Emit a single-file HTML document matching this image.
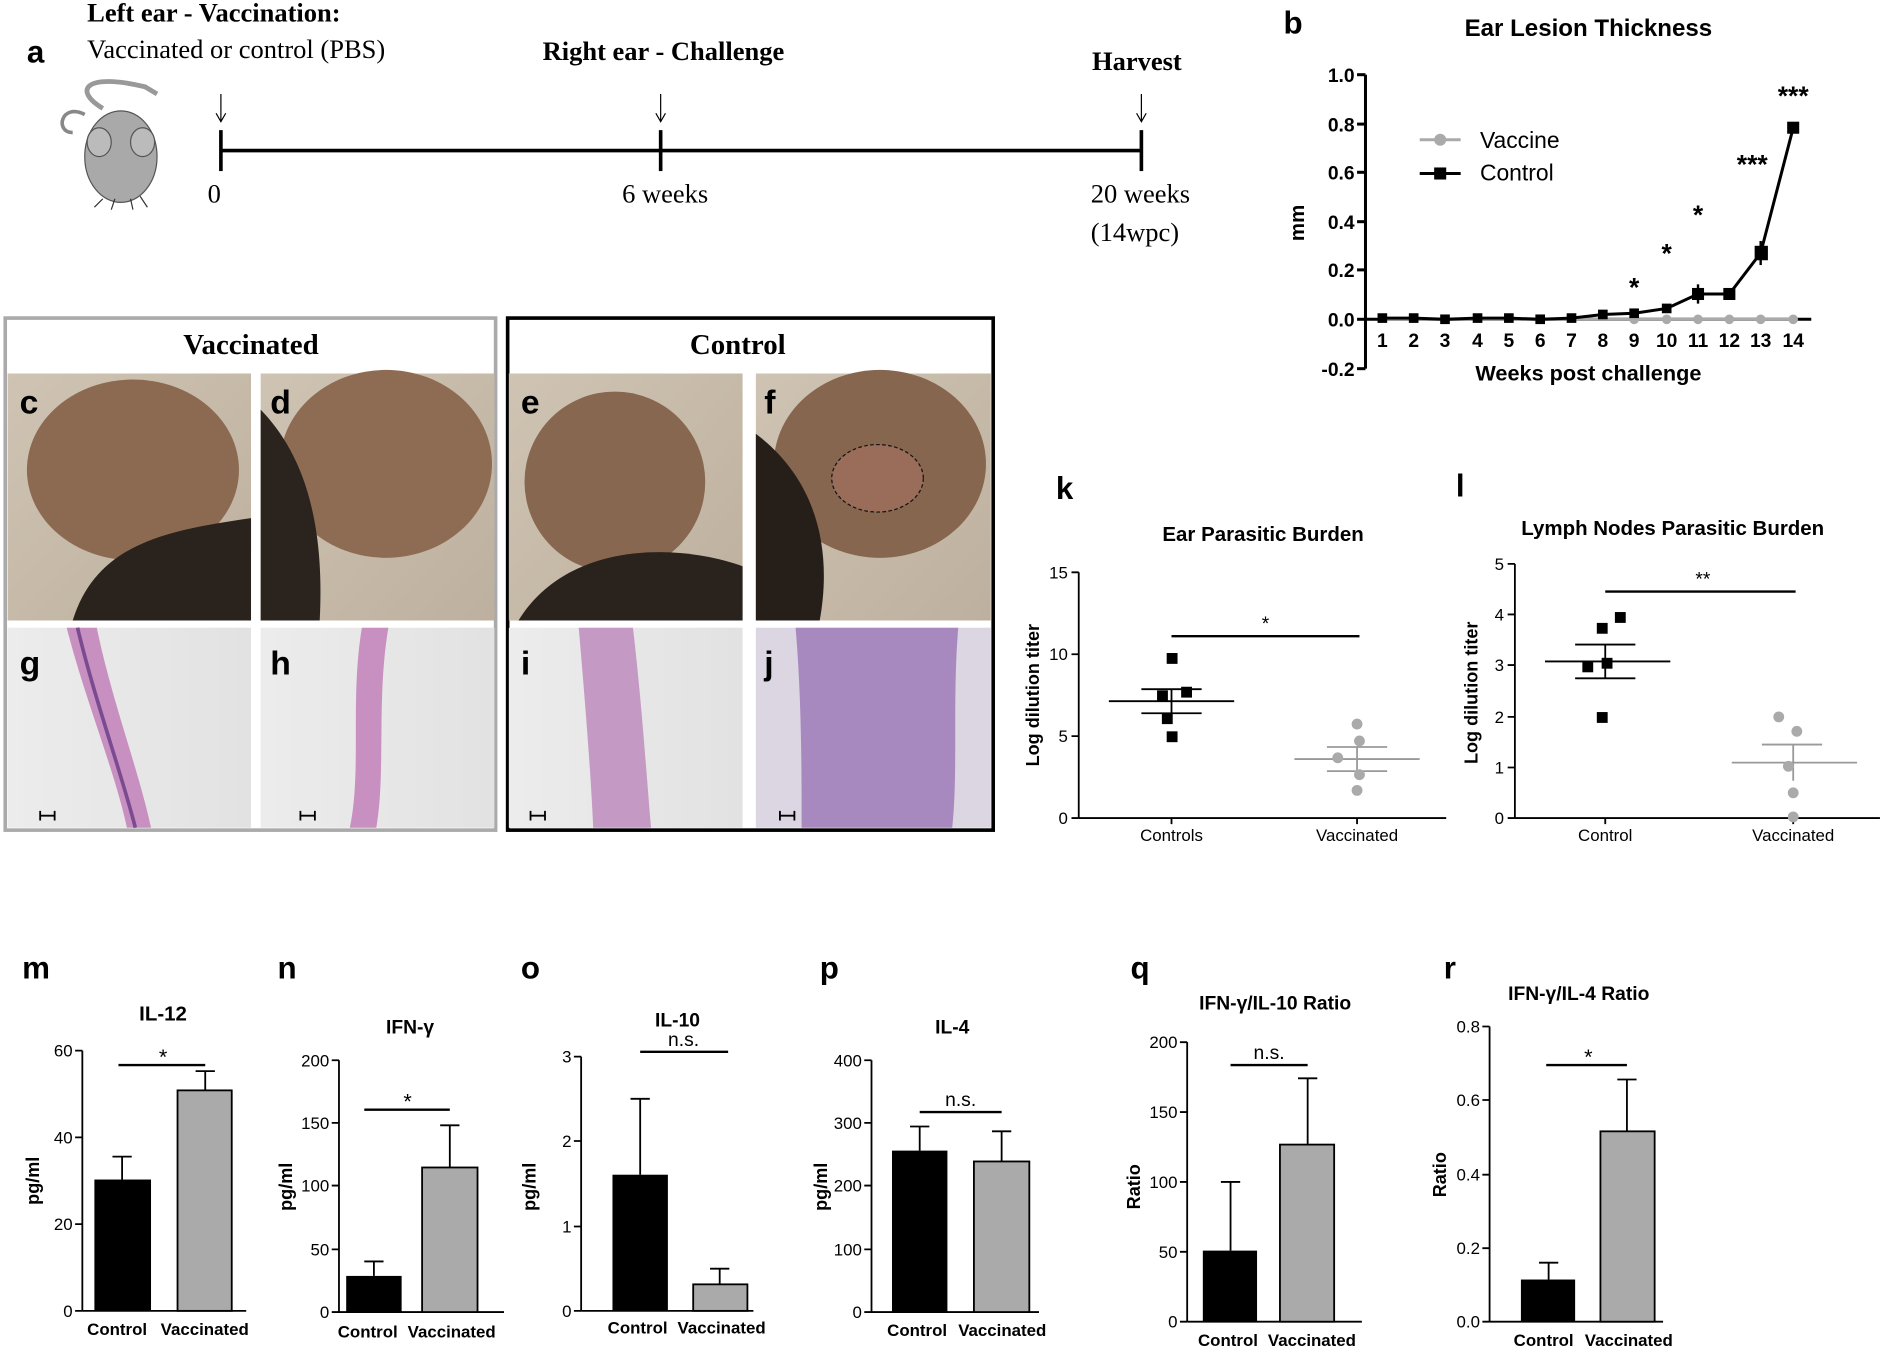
<!DOCTYPE html>
<html><head><meta charset="utf-8"><style>
html,body{margin:0;padding:0;background:#fff;width:1890px;height:1347px;overflow:hidden}
svg{display:block}
.s{font-family:"Liberation Sans",sans-serif}
.r{font-family:"Liberation Serif",serif}
</style></head><body>
<svg width="1890" height="1347" viewBox="0 0 1568 1118" xmlns="http://www.w3.org/2000/svg">
<rect width="1568" height="1118" fill="#fff"/>
<g class="r" fill="#000">
<text x="22" y="52" font-size="26" font-weight="bold" class="s">a</text>
<text x="72" y="18" font-size="22" font-weight="bold">Left ear - Vaccination:</text>
<text x="72" y="48" font-size="22">Vaccinated  or control (PBS)</text>
<text x="450" y="50" font-size="22" font-weight="bold">Right ear - Challenge</text>
<text x="906" y="58" font-size="22" font-weight="bold">Harvest</text>
<text x="172" y="168" font-size="22">0</text>
<text x="516" y="168" font-size="22">6 weeks</text>
<text x="905" y="168" font-size="22">20 weeks</text>
<text x="905" y="200" font-size="22">(14wpc)</text>
</g>
<g stroke="#000" fill="none">
<line x1="183" y1="125" x2="947" y2="125" stroke-width="3"/>
<line x1="183" y1="108" x2="183" y2="142" stroke-width="3"/>
<line x1="548" y1="108" x2="548" y2="142" stroke-width="3"/>
<line x1="947" y1="108" x2="947" y2="142" stroke-width="3"/>
<line x1="183" y1="78" x2="183" y2="100"/><path d="M179 94 L183 101 L187 94"/>
<line x1="548" y1="78" x2="548" y2="100"/><path d="M544 94 L548 101 L552 94"/>
<line x1="947" y1="78" x2="947" y2="100"/><path d="M943 94 L947 101 L951 94"/>
</g>
<g>
<path d="M70 95 C50 85 45 110 60 110" stroke="#888" stroke-width="3" fill="none"/>
<path d="M85 90 C60 75 70 60 120 72 L130 78" stroke="#999" stroke-width="4" fill="none"/>
<ellipse cx="100" cy="130" rx="30" ry="38" fill="#a9a9a9" stroke="#555"/>
<ellipse cx="82" cy="118" rx="10" ry="12" fill="#bbb" stroke="#555"/>
<ellipse cx="118" cy="118" rx="10" ry="12" fill="#bbb" stroke="#555"/>
<path d="M85 165 L78 172 M95 165 L92 174 M108 165 L110 174 M116 163 L122 172" stroke="#333"/>
</g>
<g class="s">
<text x="1065" y="28" font-size="26" font-weight="bold">b</text>
<text x="1318" y="30" font-size="20" font-weight="bold" text-anchor="middle">Ear Lesion Thickness</text>
<g stroke="#000" stroke-width="2.5">
<line x1="1133" y1="62" x2="1133" y2="306"/>
<line x1="1133" y1="265" x2="1503" y2="265"/>
<line x1="1126" y1="62" x2="1133" y2="62"/><line x1="1126" y1="103" x2="1133" y2="103"/>
<line x1="1126" y1="143" x2="1133" y2="143"/><line x1="1126" y1="184" x2="1133" y2="184"/>
<line x1="1126" y1="224" x2="1133" y2="224"/><line x1="1126" y1="265" x2="1133" y2="265"/>
<line x1="1126" y1="306" x2="1133" y2="306"/>
</g>
<g font-size="16" font-weight="bold" text-anchor="end">
<text x="1124" y="68">1.0</text><text x="1124" y="109">0.8</text><text x="1124" y="149">0.6</text>
<text x="1124" y="190">0.4</text><text x="1124" y="230">0.2</text><text x="1124" y="271">0.0</text>
<text x="1124" y="312">-0.2</text>
</g>
<text x="1082" y="185" font-size="17" font-weight="bold" transform="rotate(-90 1082 185)" text-anchor="middle">mm</text>
<g font-size="16" font-weight="bold" text-anchor="middle">
<text x="1147" y="288">1</text><text x="1173" y="288">2</text><text x="1199" y="288">3</text><text x="1226" y="288">4</text>
<text x="1252" y="288">5</text><text x="1278" y="288">6</text><text x="1304" y="288">7</text><text x="1330" y="288">8</text>
<text x="1356" y="288">9</text><text x="1383" y="288">10</text><text x="1409" y="288">11</text><text x="1435" y="288">12</text>
<text x="1461" y="288">13</text><text x="1488" y="288">14</text>
</g>
<text x="1318" y="316" font-size="18" font-weight="bold" text-anchor="middle">Weeks post challenge</text>
<polyline points="1147,265 1488,265" stroke="#aaa" stroke-width="2.5" fill="none"/>
<g fill="#aaa"><circle cx="1356" cy="265" r="4"/><circle cx="1383" cy="265" r="4"/><circle cx="1409" cy="265" r="4"/><circle cx="1435" cy="265" r="4"/><circle cx="1461" cy="265" r="4"/><circle cx="1488" cy="265" r="4"/></g>
<polyline points="1147,264 1173,264 1199,265 1226,264 1252,264 1278,265 1304,264 1330,261 1356,260 1383,256 1409,244 1435,244 1461,210 1488,106" stroke="#000" stroke-width="2.5" fill="none"/>
<g fill="#000">
<rect x="1143" y="260" width="8" height="8"/><rect x="1169" y="260" width="8" height="8"/><rect x="1195" y="261" width="8" height="8"/><rect x="1222" y="260" width="8" height="8"/><rect x="1248" y="260" width="8" height="8"/><rect x="1274" y="261" width="8" height="8"/><rect x="1300" y="260" width="8" height="8"/><rect x="1326" y="257" width="8" height="8"/><rect x="1352" y="256" width="8" height="8"/><rect x="1379" y="252" width="8" height="8"/><rect x="1404" y="239" width="10" height="10"/><rect x="1430" y="239" width="10" height="10"/><rect x="1456" y="204" width="11" height="12"/><rect x="1483" y="101" width="10" height="10"/>
</g>
<g stroke="#000" stroke-width="2"><line x1="1409" y1="236" x2="1409" y2="252"/><line x1="1461" y1="200" x2="1461" y2="220"/></g>
<g font-size="22" font-weight="bold" text-anchor="middle">
<text x="1356" y="246">*</text><text x="1383" y="218">*</text><text x="1409" y="186">*</text>
<text x="1454" y="144">***</text><text x="1488" y="87">***</text>
</g>
<line x1="1178" y1="116" x2="1212" y2="116" stroke="#aaa" stroke-width="2.5"/><circle cx="1195" cy="116" r="5" fill="#aaa"/>
<text x="1228" y="123" font-size="19">Vaccine</text>
<line x1="1178" y1="144" x2="1212" y2="144" stroke="#000" stroke-width="2.5"/><rect x="1190" y="139" width="10" height="10"/>
<text x="1228" y="150" font-size="19">Control</text>
</g>
<rect x="4" y="264" width="407" height="425" fill="#fff" stroke="#aaa" stroke-width="3"/>
<rect x="421" y="264" width="403" height="425" fill="#fff" stroke="#000" stroke-width="3"/>
<text x="208" y="294" class="r" font-size="24" font-weight="bold" text-anchor="middle">Vaccinated</text>
<text x="612" y="294" class="r" font-size="24" font-weight="bold" text-anchor="middle">Control</text>
<defs>
<linearGradient id="wall" x1="0" y1="0" x2="1" y2="1"><stop offset="0" stop-color="#cfc3b3"/><stop offset="1" stop-color="#bdb09e"/></linearGradient>
<linearGradient id="hist" x1="0" y1="0" x2="1" y2="0"><stop offset="0" stop-color="#ececec"/><stop offset="1" stop-color="#e2e2e2"/></linearGradient>
</defs>
<g>
<rect x="6" y="310" width="202" height="205" fill="url(#wall)"/>
<ellipse cx="110" cy="390" rx="88" ry="75" fill="#8c6a52"/>
<path d="M60 515 C80 450 140 440 208 430 L208 515 Z" fill="#2a221c"/>
<rect x="216" y="310" width="194" height="205" fill="url(#wall)"/>
<ellipse cx="320" cy="385" rx="88" ry="78" fill="#8e6c54"/>
<path d="M216 340 C245 370 270 420 265 515 L216 515 Z" fill="#2b231d"/>
<rect x="422" y="310" width="194" height="205" fill="url(#wall)"/>
<ellipse cx="510" cy="400" rx="75" ry="75" fill="#87674f"/>
<path d="M430 515 C470 450 560 450 616 470 L616 515 Z" fill="#2a221c"/>
<rect x="627" y="310" width="195" height="205" fill="url(#wall)"/>
<ellipse cx="730" cy="385" rx="88" ry="78" fill="#86664e"/>
<path d="M627 360 C680 400 690 460 680 515 L627 515 Z" fill="#251e19"/>
<ellipse cx="728" cy="397" rx="38" ry="28" fill="#9a6d5a" stroke="#111" stroke-dasharray="3 2"/>
<rect x="6" y="521" width="202" height="166" fill="url(#hist)"/>
<path d="M55 521 C70 580 95 640 105 687 L125 687 C115 640 92 580 80 521 Z" fill="#c890c0"/>
<path d="M64 521 C78 580 100 640 112 687" stroke="#7a4b90" stroke-width="3" fill="none"/>
<rect x="216" y="521" width="194" height="166" fill="url(#hist)"/>
<path d="M300 521 C290 580 300 640 290 687 L312 687 C320 640 312 580 322 521 Z" fill="#c890c0"/>
<rect x="422" y="521" width="194" height="166" fill="url(#hist)"/>
<path d="M480 521 C485 580 490 640 492 687 L540 687 C536 640 532 580 525 521 Z" fill="#c49ac4"/>
<rect x="627" y="521" width="195" height="166" fill="#dcd5e2"/>
<path d="M660 521 C665 580 665 640 665 687 L790 687 C795 640 790 580 795 521 Z" fill="#a889bf"/>
</g>
<g class="s" font-size="28" font-weight="bold" fill="#000">
<text x="16" y="343">c</text><text x="224" y="343">d</text><text x="432" y="343">e</text><text x="634" y="343">f</text>
<text x="16" y="560">g</text><text x="224" y="560">h</text><text x="432" y="560">i</text><text x="634" y="560">j</text>
</g>
<g stroke="#000" stroke-width="1.5"><path d="M33 677h12M33 673v8M45 673v8"/><path d="M249 677h12M249 673v8M261 673v8"/><path d="M440 677h12M440 673v8M452 673v8"/><path d="M647 677h12M647 673v8M659 673v8"/></g>
<g class="s">
<text x="876" y="414" font-size="26" font-weight="bold">k</text>
<text x="1048" y="449" font-size="17" font-weight="bold" text-anchor="middle">Ear Parasitic Burden</text>
<g stroke="#000" stroke-width="1.5"><line x1="895" y1="475" x2="895" y2="679"/><line x1="895" y1="679" x2="1200" y2="679"/>
<path d="M889 475h6M889 543h6M889 611h6M889 679h6"/><path d="M972 679v5M1126 679v5"/></g>
<g font-size="14" text-anchor="end"><text x="886" y="480">15</text><text x="886" y="548">10</text><text x="886" y="616">5</text><text x="886" y="684">0</text></g>
<text x="862" y="577" font-size="15" font-weight="bold" transform="rotate(-90 862 577)" text-anchor="middle">Log dilution titer</text>
<g font-size="14" text-anchor="middle"><text x="972" y="698">Controls</text><text x="1126" y="698">Vaccinated</text></g>
<line x1="972" y1="528" x2="1128" y2="528" stroke="#000" stroke-width="2"/><text x="1050" y="523" font-size="16" text-anchor="middle">*</text>
<g stroke="#000" stroke-width="1.5"><line x1="920" y1="582" x2="1024" y2="582"/><line x1="947" y1="572" x2="997" y2="572"/><line x1="972" y1="572" x2="972" y2="592"/><line x1="947" y1="592" x2="997" y2="592"/></g>
<g fill="#000"><rect x="968" y="542" width="9" height="9"/><rect x="980" y="570" width="9" height="9"/><rect x="960" y="573" width="9" height="9"/><rect x="964" y="592" width="9" height="9"/><rect x="968" y="607" width="9" height="9"/></g>
<g stroke="#999" stroke-width="1.5"><line x1="1074" y1="630" x2="1178" y2="630"/><line x1="1101" y1="620" x2="1151" y2="620"/><line x1="1126" y1="620" x2="1126" y2="640"/><line x1="1101" y1="640" x2="1151" y2="640"/></g>
<g fill="#aaa"><circle cx="1126" cy="601" r="4.5"/><circle cx="1128" cy="615" r="4.5"/><circle cx="1110" cy="629" r="4.5"/><circle cx="1128" cy="643" r="4.5"/><circle cx="1126" cy="656" r="4.5"/></g>
</g>
<g class="s">
<text x="1208" y="412" font-size="26" font-weight="bold">l</text>
<text x="1388" y="444" font-size="17" font-weight="bold" text-anchor="middle">Lymph Nodes Parasitic Burden</text>
<g stroke="#000" stroke-width="1.5"><line x1="1257" y1="468" x2="1257" y2="679"/><line x1="1257" y1="679" x2="1560" y2="679"/>
<path d="M1251 468h6M1251 510h6M1251 552h6M1251 595h6M1251 637h6M1251 679h6"/><path d="M1332 679v5M1488 679v5"/></g>
<g font-size="14" text-anchor="end"><text x="1248" y="473">5</text><text x="1248" y="515">4</text><text x="1248" y="557">3</text><text x="1248" y="600">2</text><text x="1248" y="642">1</text><text x="1248" y="684">0</text></g>
<text x="1226" y="575" font-size="15" font-weight="bold" transform="rotate(-90 1226 575)" text-anchor="middle">Log dilution titer</text>
<g font-size="14" text-anchor="middle"><text x="1332" y="698">Control</text><text x="1488" y="698">Vaccinated</text></g>
<line x1="1332" y1="491" x2="1490" y2="491" stroke="#000" stroke-width="2"/><text x="1413" y="486" font-size="16" text-anchor="middle">**</text>
<g stroke="#000" stroke-width="1.5"><line x1="1282" y1="549" x2="1386" y2="549"/><line x1="1307" y1="535" x2="1357" y2="535"/><line x1="1332" y1="535" x2="1332" y2="563"/><line x1="1307" y1="563" x2="1357" y2="563"/></g>
<g fill="#000"><rect x="1340" y="508" width="9" height="9"/><rect x="1325" y="517" width="9" height="9"/><rect x="1313" y="549" width="9" height="9"/><rect x="1329" y="546" width="9" height="9"/><rect x="1325" y="591" width="9" height="9"/></g>
<g stroke="#999" stroke-width="1.5"><line x1="1437" y1="633" x2="1541" y2="633"/><line x1="1462" y1="618" x2="1512" y2="618"/><line x1="1488" y1="618" x2="1488" y2="648"/></g>
<g fill="#aaa"><circle cx="1476" cy="595" r="4.5"/><circle cx="1491" cy="607" r="4.5"/><circle cx="1484" cy="636" r="4.5"/><circle cx="1488" cy="658" r="4.5"/><circle cx="1488" cy="678" r="4.5"/></g>
</g>
<g class="s">
<g font-size="26" font-weight="bold"><text x="18" y="812">m</text><text x="230" y="812">n</text><text x="432" y="812">o</text><text x="680" y="812">p</text><text x="938" y="812">q</text><text x="1198" y="812">r</text></g>
<text x="135" y="847" font-size="17" font-weight="bold" text-anchor="middle">IL-12</text>
<g stroke="#000" stroke-width="1.5"><line x1="68" y1="872" x2="68" y2="1088"/><line x1="68" y1="1088" x2="204" y2="1088"/><path d="M62 872h6M62 944h6M62 1016h6M62 1088h6"/></g>
<g font-size="14" text-anchor="end"><text x="60" y="877">60</text><text x="60" y="949">40</text><text x="60" y="1021">20</text><text x="60" y="1093">0</text></g>
<text x="32" y="980" font-size="15" font-weight="bold" transform="rotate(-90 32 980)" text-anchor="middle">pg/ml</text>
<rect x="78" y="979" width="47" height="109"/><rect x="147" y="905" width="45" height="183" fill="#aaa" stroke="#000" stroke-width="1.5"/>
<g stroke="#000" stroke-width="1.5"><path d="M101 979v-19M93 960h16M170 905v-16M162 889h16"/></g>
<line x1="98" y1="884" x2="170" y2="884" stroke="#000" stroke-width="2"/><text x="135" y="883" font-size="18" text-anchor="middle">*</text>
<g font-size="14" font-weight="bold"><text x="72" y="1108">Control</text><text x="133" y="1108">Vaccinated</text></g>
<text x="340" y="858" font-size="16" font-weight="bold" text-anchor="middle">IFN-γ</text>
<g stroke="#000" stroke-width="1.5"><line x1="281" y1="880" x2="281" y2="1089"/><line x1="281" y1="1089" x2="418" y2="1089"/><path d="M275 880h6M275 932h6M275 984h6M275 1037h6M275 1089h6"/></g>
<g font-size="14" text-anchor="end"><text x="273" y="885">200</text><text x="273" y="937">150</text><text x="273" y="989">100</text><text x="273" y="1042">50</text><text x="273" y="1094">0</text></g>
<text x="242" y="985" font-size="15" font-weight="bold" transform="rotate(-90 242 985)" text-anchor="middle">pg/ml</text>
<rect x="287" y="1059" width="46" height="30"/><rect x="350" y="969" width="46" height="120" fill="#aaa" stroke="#000" stroke-width="1.5"/>
<g stroke="#000" stroke-width="1.5"><path d="M310 1059v-12M302 1047h16M373 969v-35M365 934h16"/></g>
<line x1="302" y1="921" x2="373" y2="921" stroke="#000" stroke-width="2"/><text x="338" y="920" font-size="18" text-anchor="middle">*</text>
<g font-size="14" font-weight="bold"><text x="280" y="1110">Control</text><text x="338" y="1110">Vaccinated</text></g>
<text x="562" y="852" font-size="16" font-weight="bold" text-anchor="middle">IL-10</text>
<g stroke="#000" stroke-width="1.5"><line x1="482" y1="877" x2="482" y2="1088"/><line x1="482" y1="1088" x2="625" y2="1088"/><path d="M476 877h6M476 947h6M476 1018h6M476 1088h6"/></g>
<g font-size="14" text-anchor="end"><text x="474" y="882">3</text><text x="474" y="952">2</text><text x="474" y="1023">1</text><text x="474" y="1093">0</text></g>
<text x="444" y="985" font-size="15" font-weight="bold" transform="rotate(-90 444 985)" text-anchor="middle">pg/ml</text>
<rect x="508" y="975" width="46" height="113"/><rect x="575" y="1066" width="45" height="22" fill="#aaa" stroke="#000" stroke-width="1.5"/>
<g stroke="#000" stroke-width="1.5"><path d="M531 975v-63M523 912h16M597 1066v-13M589 1053h16"/></g>
<line x1="531" y1="873" x2="604" y2="873" stroke="#000" stroke-width="2"/><text x="567" y="868" font-size="16" text-anchor="middle">n.s.</text>
<g font-size="14" font-weight="bold"><text x="504" y="1107">Control</text><text x="562" y="1107">Vaccinated</text></g>
<text x="790" y="858" font-size="16" font-weight="bold" text-anchor="middle">IL-4</text>
<g stroke="#000" stroke-width="1.5"><line x1="723" y1="880" x2="723" y2="1089"/><line x1="723" y1="1089" x2="862" y2="1089"/><path d="M717 880h6M717 932h6M717 984h6M717 1037h6M717 1089h6"/></g>
<g font-size="14" text-anchor="end"><text x="715" y="885">400</text><text x="715" y="937">300</text><text x="715" y="989">200</text><text x="715" y="1042">100</text><text x="715" y="1094">0</text></g>
<text x="686" y="985" font-size="15" font-weight="bold" transform="rotate(-90 686 985)" text-anchor="middle">pg/ml</text>
<rect x="740" y="955" width="46" height="134"/><rect x="808" y="964" width="46" height="125" fill="#aaa" stroke="#000" stroke-width="1.5"/>
<g stroke="#000" stroke-width="1.5"><path d="M763 955v-20M755 935h16M831 964v-25M823 939h16"/></g>
<line x1="763" y1="923" x2="831" y2="923" stroke="#000" stroke-width="2"/><text x="797" y="918" font-size="16" text-anchor="middle">n.s.</text>
<g font-size="14" font-weight="bold"><text x="736" y="1109">Control</text><text x="795" y="1109">Vaccinated</text></g>
<text x="1058" y="838" font-size="16" font-weight="bold" text-anchor="middle">IFN-γ/IL-10 Ratio</text>
<g stroke="#000" stroke-width="1.5"><line x1="985" y1="865" x2="985" y2="1097"/><line x1="985" y1="1097" x2="1130" y2="1097"/><path d="M979 865h6M979 923h6M979 981h6M979 1039h6M979 1097h6"/></g>
<g font-size="14" text-anchor="end"><text x="977" y="870">200</text><text x="977" y="928">150</text><text x="977" y="986">100</text><text x="977" y="1044">50</text><text x="977" y="1102">0</text></g>
<text x="946" y="985" font-size="15" font-weight="bold" transform="rotate(-90 946 985)" text-anchor="middle">Ratio</text>
<rect x="998" y="1038" width="45" height="59"/><rect x="1062" y="950" width="45" height="147" fill="#aaa" stroke="#000" stroke-width="1.5"/>
<g stroke="#000" stroke-width="1.5"><path d="M1021 1038v-57M1013 981h16M1085 950v-55M1077 895h16"/></g>
<line x1="1021" y1="884" x2="1085" y2="884" stroke="#000" stroke-width="2"/><text x="1053" y="879" font-size="16" text-anchor="middle">n.s.</text>
<g font-size="14" font-weight="bold"><text x="994" y="1117">Control</text><text x="1052" y="1117">Vaccinated</text></g>
<text x="1310" y="830" font-size="16" font-weight="bold" text-anchor="middle">IFN-γ/IL-4 Ratio</text>
<g stroke="#000" stroke-width="1.5"><line x1="1236" y1="852" x2="1236" y2="1097"/><line x1="1236" y1="1097" x2="1380" y2="1097"/><path d="M1230 852h6M1230 913h6M1230 975h6M1230 1036h6M1230 1097h6"/></g>
<g font-size="14" text-anchor="end"><text x="1228" y="857">0.8</text><text x="1228" y="918">0.6</text><text x="1228" y="980">0.4</text><text x="1228" y="1041">0.2</text><text x="1228" y="1102">0.0</text></g>
<text x="1200" y="975" font-size="15" font-weight="bold" transform="rotate(-90 1200 975)" text-anchor="middle">Ratio</text>
<rect x="1262" y="1062" width="45" height="35"/><rect x="1328" y="939" width="45" height="158" fill="#aaa" stroke="#000" stroke-width="1.5"/>
<g stroke="#000" stroke-width="1.5"><path d="M1285 1062v-14M1277 1048h16M1350 939v-43M1342 896h16"/></g>
<line x1="1283" y1="884" x2="1350" y2="884" stroke="#000" stroke-width="2"/><text x="1318" y="883" font-size="18" text-anchor="middle">*</text>
<g font-size="14" font-weight="bold"><text x="1256" y="1117">Control</text><text x="1315" y="1117">Vaccinated</text></g>
</g>
</svg>
</body></html>
